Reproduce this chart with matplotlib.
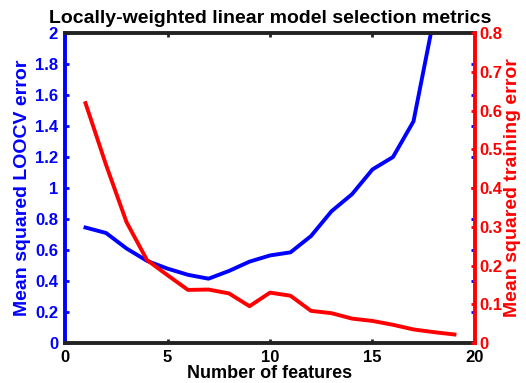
import matplotlib.pyplot as plt

plt.rcParams["font.family"] = ["Liberation Sans", "DejaVu Sans"]
plt.rcParams["font.weight"] = "bold"

# Data
n_features = [1, 2, 3, 4, 5, 6, 7, 8, 9, 10, 11, 12, 13, 14, 15, 16, 17, 18, 19]
loocv_err = [0.745, 0.71, 0.61, 0.53, 0.48, 0.44, 0.415, 0.465, 0.525, 0.565,
             0.585, 0.69, 0.85, 0.96, 1.12, 1.2, 1.43, 2.1, 2.9]
train_err = [0.619, 0.46, 0.312, 0.214, 0.175, 0.137, 0.138, 0.128, 0.095, 0.13,
             0.122, 0.083, 0.077, 0.063, 0.057, 0.047, 0.035, 0.028, 0.022]
x_ticks = [0, 5, 10, 15, 20]
left_ticks = [0, 0.2, 0.4, 0.6, 0.8, 1, 1.2, 1.4, 1.6, 1.8, 2]
left_labels = ["0", "0.2", "0.4", "0.6", "0.8", "1", "1.2", "1.4", "1.6", "1.8", "2"]
right_ticks = [0, 0.1, 0.2, 0.3, 0.4, 0.5, 0.6, 0.7, 0.8]
right_labels = ["0", "0.1", "0.2", "0.3", "0.4", "0.5", "0.6", "0.7", "0.8"]

fig = plt.figure(figsize=(5.26, 3.83), dpi=100)
ax1 = fig.add_axes([0.1236, 0.1044, 0.7794, 0.8094])
ax2 = ax1.twinx()

ax1.plot(n_features, loocv_err, color="#0000ff", lw=2.8)
ax2.plot(n_features, train_err, color="#ff0000", lw=2.8)

ax1.set_xlim(0, 20)
ax1.set_ylim(0, 2)
ax2.set_ylim(0, 0.8)
ax1.set_xticks(x_ticks)
ax1.set_yticks(left_ticks)
ax1.set_yticklabels(left_labels)
ax2.set_yticks(right_ticks)
ax2.set_yticklabels(right_labels)

for sp in ["top", "bottom"]:
    ax1.spines[sp].set_color("#222222")
    ax1.spines[sp].set_linewidth(2.8)
    ax2.spines[sp].set_visible(False)
ax1.spines["left"].set_color("#0000ff")
ax1.spines["left"].set_linewidth(2.8)
ax1.spines["right"].set_visible(False)
ax2.spines["left"].set_visible(False)
ax2.spines["right"].set_color("#ff0000")
ax2.spines["right"].set_linewidth(2.8)

ax1.tick_params(axis="x", direction="in", top=True, length=3, width=2,
                color="#222222", labelsize=12, pad=5)
ax1.tick_params(axis="y", direction="in", right=True, length=3, width=2,
                color="#0000ff", labelcolor="#0000ff", labelsize=12, pad=5)
ax2.tick_params(axis="y", direction="in", length=3, width=2,
                color="#ff0000", labelcolor="#ff0000", labelsize=12, pad=3)

ax1.set_xlabel("Number of features", fontsize=13, fontweight="bold", labelpad=0)
ax1.set_ylabel("Mean squared LOOCV error", fontsize=14, fontweight="bold",
               color="#0000ff", labelpad=3)
ax2.set_ylabel("Mean squared training error", fontsize=14, fontweight="bold",
               color="#ff0000", labelpad=1)
ax1.set_title("Locally-weighted linear model selection metrics", fontsize=14,
              fontweight="bold", pad=7)

fig.savefig("out.png", dpi=100)
